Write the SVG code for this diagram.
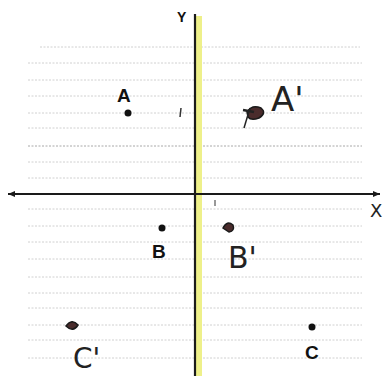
<svg xmlns="http://www.w3.org/2000/svg" width="385" height="376" viewBox="0 0 385 376">
<style>
.grid{stroke:#d0d0d0;stroke-width:1;stroke-dasharray:2 1.5;fill:none}
.axis{stroke:#1a1a1a;stroke-width:2.2;fill:none}
.pt{fill:#111}
.blob{fill:#4a2c2c;stroke:#1a1a1a;stroke-width:1.5}
.lab{font-family:"Liberation Sans",Arial,sans-serif;font-weight:bold;font-size:19px;fill:#111}
.hand{font-family:"DejaVu Sans","Liberation Sans",sans-serif;font-weight:normal;fill:#222}
</style>
<rect width="385" height="376" fill="#fff"/>
<g id="grid">
<line class="grid" x1="40" y1="47" x2="360" y2="47"/>
<line class="grid" x1="28" y1="63" x2="362" y2="63"/>
<line class="grid" x1="28" y1="80" x2="362" y2="80"/>
<line class="grid" x1="28" y1="96" x2="362" y2="96"/>
<line class="grid" x1="28" y1="113" x2="362" y2="113"/>
<line class="grid" x1="28" y1="128" x2="362" y2="128"/>
<line class="grid" x1="28" y1="146" x2="362" y2="146" style="stroke:#a8a8a8"/>
<line class="grid" x1="28" y1="162" x2="362" y2="162"/>
<line class="grid" x1="28" y1="178" x2="362" y2="178"/>
<line class="grid" x1="28" y1="209" x2="362" y2="209"/>
<line class="grid" x1="28" y1="226" x2="362" y2="226"/>
<line class="grid" x1="28" y1="242" x2="362" y2="242"/>
<line class="grid" x1="28" y1="259" x2="362" y2="259"/>
<line class="grid" x1="28" y1="277" x2="362" y2="277"/>
<line class="grid" x1="28" y1="293" x2="362" y2="293"/>
<line class="grid" x1="28" y1="308" x2="362" y2="308"/>
<line class="grid" x1="28" y1="325" x2="362" y2="325"/>
<line class="grid" x1="28" y1="340" x2="362" y2="340"/>
<line class="grid" x1="28" y1="358" x2="362" y2="358"/>
</g>
<g id="axes">
<rect x="195" y="16" width="7" height="360" fill="#eef08a"/>
<line class="axis" x1="195" y1="14" x2="195" y2="376"/>
<line class="axis" x1="8" y1="194" x2="380" y2="194"/>
<path d="M8 194 L15 191 L15 197 Z" fill="#1a1a1a"/>
<path d="M380 194 L373 191 L373 197 Z" fill="#1a1a1a"/>
<line x1="215" y1="200" x2="215" y2="206" stroke="#333" stroke-width="1"/>
<line x1="181" y1="108" x2="180" y2="117" stroke="#333" stroke-width="1.5"/>
<text x="177" y="22" class="lab" style="font-size:14px">Y</text>
<text x="370" y="217" class="hand" style="font-size:18px">X</text>
</g>
<g id="A"><circle class="pt" cx="128" cy="113" r="3.5"/><text class="lab" x="117" y="102">A</text></g>
<g id="A1"><path class="blob" d="M247 112 Q252 104 261 108 Q267 113 259 118 Q251 121 248 117 Z"/><line x1="243" y1="110" x2="254" y2="112" stroke="#222" stroke-width="2.5"/><line x1="250" y1="108" x2="244" y2="128" stroke="#222" stroke-width="1.5"/><text class="hand" x="271" y="111" style="font-size:34px">A'</text></g>
<g id="B"><circle class="pt" cx="162" cy="228" r="3.5"/><text class="lab" x="152" y="258">B</text></g>
<g id="B1"><path class="blob" d="M223 228 Q227 220 233 225 Q235 231 229 232 Z"/><text class="hand" x="228" y="268" style="font-size:30px">B'</text></g>
<g id="C"><circle class="pt" cx="312" cy="327" r="3.5"/><text class="lab" x="305" y="359">C</text></g>
<g id="C1"><path class="blob" d="M66 326 Q72 318 78 325 Q73 333 66 326 Z"/><text class="hand" x="73" y="368" style="font-size:28px">C'</text></g>
</svg>
